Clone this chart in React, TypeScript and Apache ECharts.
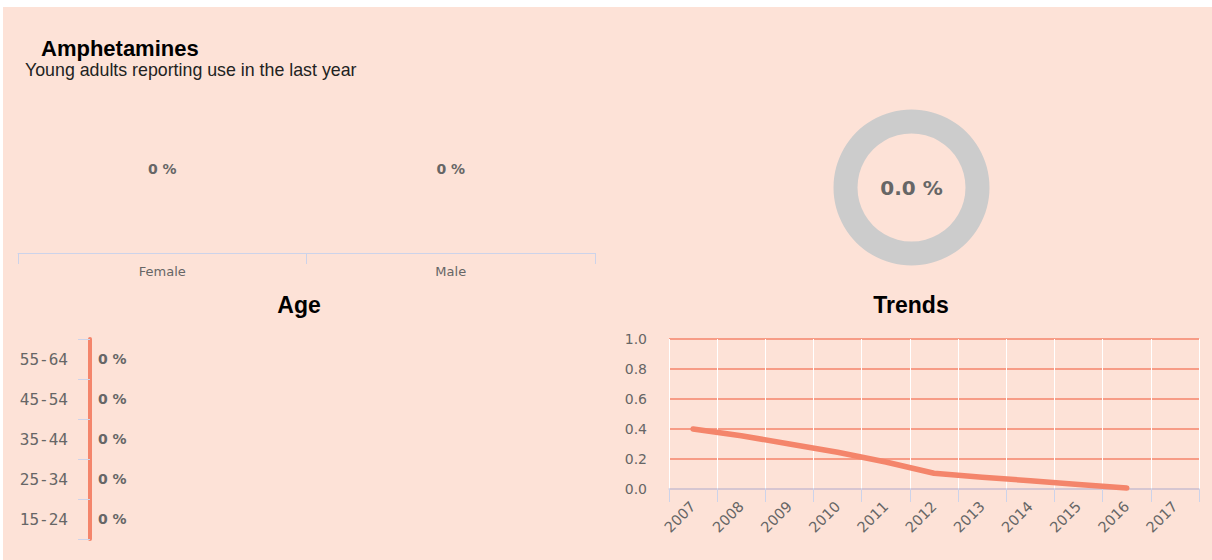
import React, { useEffect, useRef } from "react";
import * as echarts from "echarts";

const titleText = "Amphetamines";
const subtitleText = "Young adults reporting use in the last year";

const genderCategories = ["Female", "Male"];
const genderValues = [0, 0];

const ageCategories = ["15-24", "25-34", "35-44", "45-54", "55-64"];
const ageValues = [0, 0, 0, 0, 0];

const donutValue = 0.0;

const trendYears = ["2007", "2008", "2009", "2010", "2011", "2012", "2013", "2014", "2015", "2016", "2017"];
const trendValues: (number | null)[] = [0.4, 0.355, 0.3, 0.245, 0.18, 0.105, 0.078, 0.055, 0.03, 0.007, null];

const ORANGE = "#f4856b";
const AXIS = "#ccd3ea";
const GREY_TEXT = "#666666";
const BG = "#fde2d7";

export default function App() {
  const ref = useRef<HTMLDivElement>(null);
  useEffect(() => {
    if (!ref.current) return;
    const chart = echarts.init(ref.current, undefined, { renderer: "svg" });
    const valueLabel = {
      show: true,
      formatter: (p: any) => `${p.value} %`,
      fontFamily: "DejaVu Sans",
      fontSize: 14,
      fontWeight: "bold" as const,
      color: GREY_TEXT,
    };
    const txt = (x: number, y: number, text: string, font: string, fill: string, align: string) => ({
      type: "text",
      x,
      y,
      style: {
        text,
        font,
        fill,
        textAlign: align,
        textVerticalAlign: "middle",
        align,
        verticalAlign: "middle",
      },
    });
    chart.setOption({
      animation: false,
      backgroundColor: BG,
      graphic: [
        txt(38, 41, titleText, "bold 22px 'Liberation Sans', Arial, sans-serif", "#000", "left"),
        txt(22, 63, subtitleText, "17.8px 'Liberation Sans', Arial, sans-serif", "#222", "left"),
        txt(296, 298, "Age", "bold 23px 'Liberation Sans', Arial, sans-serif", "#000", "center"),
        txt(908, 298, "Trends", "bold 23px 'Liberation Sans', Arial, sans-serif", "#000", "center"),
        txt(908.5, 180.5, `${donutValue.toFixed(1)} %`, "bold 20px 'DejaVu Sans', sans-serif", GREY_TEXT, "center"),
      ],
      grid: [
        { left: 15, top: 78, width: 577, height: 168 },
        { left: 87, top: 332, width: 400, height: 200 },
        { left: 666, top: 332, width: 530, height: 150 },
      ],
      xAxis: [
        {
          gridIndex: 0,
          type: "category",
          data: genderCategories,
          axisLine: { lineStyle: { color: AXIS, width: 1 } },
          axisTick: { show: true, length: 11, lineStyle: { color: AXIS } },
          axisLabel: { margin: 12, color: GREY_TEXT, fontFamily: "DejaVu Sans", fontSize: 13 },
          splitLine: { show: false },
        },
        {
          gridIndex: 1,
          type: "value",
          min: 0,
          max: 1,
          show: false,
        },
        {
          gridIndex: 2,
          type: "category",
          data: trendYears,
          boundaryGap: true,
          z: 3,
          axisLine: { lineStyle: { color: AXIS, width: 1.5 } },
          axisTick: { show: true, length: 13, lineStyle: { color: AXIS } },
          axisLabel: { rotate: 45, margin: 15, color: GREY_TEXT, fontFamily: "DejaVu Sans", fontSize: 14.5, interval: 0 },
          splitLine: { show: true, interval: 0, lineStyle: { color: "#ffffff", width: 1 } },
        },
      ],
      yAxis: [
        { gridIndex: 0, type: "value", min: 0, max: 1, show: false },
        {
          gridIndex: 1,
          type: "category",
          data: ageCategories,
          axisLine: { show: true, lineStyle: { color: ORANGE, width: 4 } },
          axisTick: { show: true, length: 12, lineStyle: { color: AXIS } },
          axisLabel: { margin: 22, color: GREY_TEXT, fontFamily: "DejaVu Sans Mono", fontSize: 16 },
          splitLine: { show: false },
        },
        {
          gridIndex: 2,
          type: "value",
          min: 0,
          max: 1,
          interval: 0.2,
          axisLine: { show: false },
          axisTick: { show: false },
          axisLabel: {
            margin: 22,
            color: GREY_TEXT,
            fontFamily: "DejaVu Sans",
            fontSize: 14,
            formatter: (v: number) => v.toFixed(1),
          },
          splitLine: { show: true, lineStyle: { color: ORANGE, width: 1.5 } },
        },
      ],
      series: [
        {
          type: "bar",
          xAxisIndex: 0,
          yAxisIndex: 0,
          data: genderValues,
          barWidth: "60%",
          itemStyle: { color: ORANGE },
          label: { ...valueLabel, position: "top", distance: 77 },
          silent: true,
        },
        {
          type: "bar",
          xAxisIndex: 1,
          yAxisIndex: 1,
          data: ageValues,
          barWidth: "60%",
          itemStyle: { color: ORANGE },
          label: { ...valueLabel, position: "right", distance: 8 },
          silent: true,
        },
        {
          type: "line",
          xAxisIndex: 2,
          yAxisIndex: 2,
          data: trendValues,
          symbol: "none",
          showSymbol: false,
          lineStyle: { color: ORANGE, width: 5.5, cap: "round", join: "round" },
          itemStyle: { color: ORANGE },
          silent: true,
          z: 5,
        },
        {
          type: "pie",
          center: [908.5, 180.5],
          radius: [54, 78],
          silent: true,
          label: { show: false },
          labelLine: { show: false },
          emphasis: { disabled: true },
          data: [
            { value: donutValue, name: "Users", itemStyle: { color: ORANGE } },
            { value: 100 - donutValue, name: "Others", itemStyle: { color: "#cccccc" } },
          ],
        },
      ],
    });
    return () => chart.dispose();
  }, []);
  return (
    <div style={{ position: "absolute", left: 0, top: 0, width: 1212, height: 560, background: "#fff" }}>
      <div ref={ref} style={{ position: "absolute", left: 3, top: 7, width: 1209, height: 553 }} />
    </div>
  );
}
